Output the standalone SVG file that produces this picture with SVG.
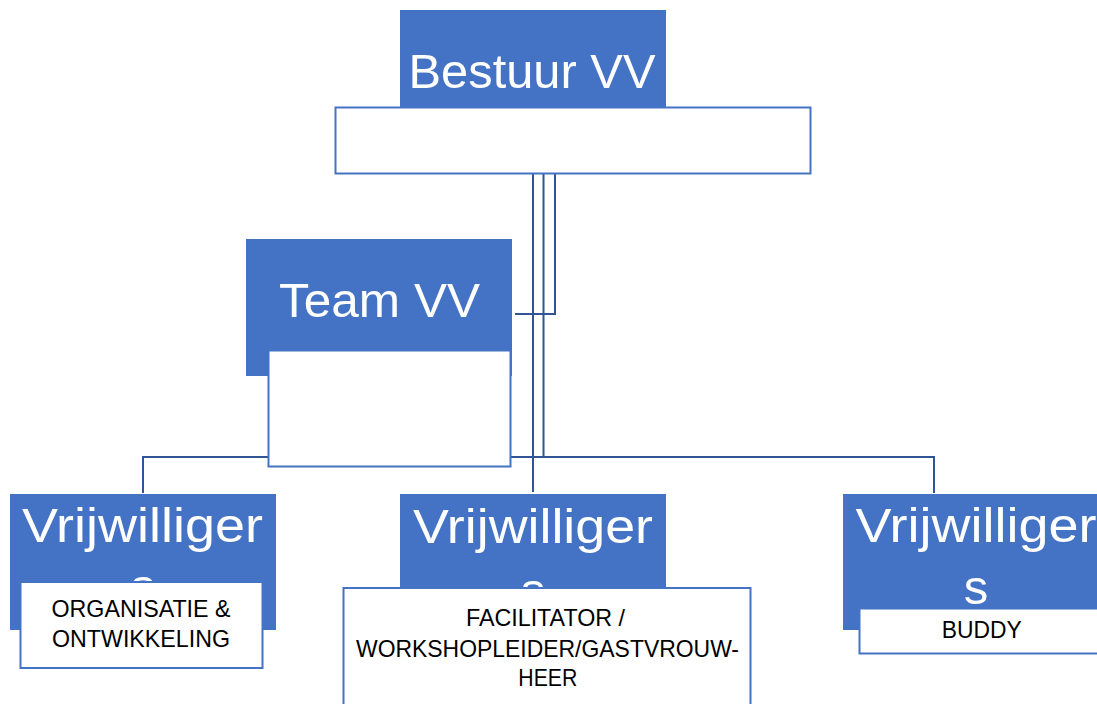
<svg xmlns="http://www.w3.org/2000/svg" width="1097" height="704" viewBox="0 0 1097 704">
  <style>
    .blue { fill: #4472C4; }
    .card { fill: #FFFFFF; stroke: #4472C4; stroke-width: 2; }
    .conn { fill: none; stroke: #2F5597; stroke-width: 2; }
    .big { font-family: "Liberation Sans", Arial, sans-serif; font-size: 49px; fill: #FFFFFF; text-anchor: middle; }
    .small { font-family: "Liberation Sans", Arial, sans-serif; font-size: 24px; fill: #000000; text-anchor: middle; }
  </style>
  <rect width="1097" height="704" fill="#FFFFFF"/>
  <g id="connectors">
    <path class="conn" d="M533 173 V492"/>
    <path class="conn" d="M543.5 173 V457 H143 V493"/>
    <path class="conn" d="M543.5 457 H934 V493"/>
    <path class="conn" d="M555 173 V314 H515"/>
  </g>
  <g id="bestuur">
    <rect class="blue" x="400" y="10" width="266" height="98"/>
    <text class="big" x="532" y="88" textLength="247" lengthAdjust="spacingAndGlyphs">Bestuur VV</text>
    <rect class="card" x="335.5" y="107.5" width="475" height="66"/>
  </g>
  <g id="team">
    <rect class="blue" x="246" y="239" width="266" height="137"/>
    <text class="big" x="379.5" y="316.5" textLength="201" lengthAdjust="spacingAndGlyphs">Team VV</text>
    <rect class="card" x="268.5" y="350.5" width="242" height="116"/>
  </g>
  <g id="vrijwilligers-organisatie">
    <rect class="blue" x="10" y="494" width="266" height="136"/>
    <text class="big" x="142.5" y="541.5" textLength="241" lengthAdjust="spacingAndGlyphs">Vrijwilliger</text>
    <text class="big" x="143" y="603">s</text>
    <rect class="card" x="20.5" y="582" width="242" height="86"/>
    <text class="small" x="141" y="616.5" textLength="179" lengthAdjust="spacingAndGlyphs">ORGANISATIE &amp;</text>
    <text class="small" x="141" y="646.5" textLength="178" lengthAdjust="spacingAndGlyphs">ONTWIKKELING</text>
  </g>
  <g id="vrijwilligers-facilitator">
    <rect class="blue" x="400" y="494" width="266" height="136"/>
    <text class="big" x="533" y="542.5" textLength="240" lengthAdjust="spacingAndGlyphs">Vrijwilliger</text>
    <text class="big" x="533" y="607">s</text>
    <rect class="card" x="343.5" y="588" width="407" height="140"/>
    <text class="small" x="545.5" y="626" textLength="159" lengthAdjust="spacingAndGlyphs">FACILITATOR /</text>
    <text class="small" x="547.5" y="656.5" textLength="383" lengthAdjust="spacingAndGlyphs">WORKSHOPLEIDER/GASTVROUW-</text>
    <text class="small" x="547.8" y="686" textLength="59" lengthAdjust="spacingAndGlyphs">HEER</text>
  </g>
  <g id="vrijwilligers-buddy">
    <rect class="blue" x="843" y="494" width="266" height="136"/>
    <text class="big" x="976" y="541.5" textLength="241" lengthAdjust="spacingAndGlyphs">Vrijwilliger</text>
    <text class="big" x="976" y="604">s</text>
    <rect class="card" x="859.5" y="608.5" width="250" height="45"/>
    <text class="small" x="981.7" y="638.3" textLength="80" lengthAdjust="spacingAndGlyphs">BUDDY</text>
  </g>
</svg>
